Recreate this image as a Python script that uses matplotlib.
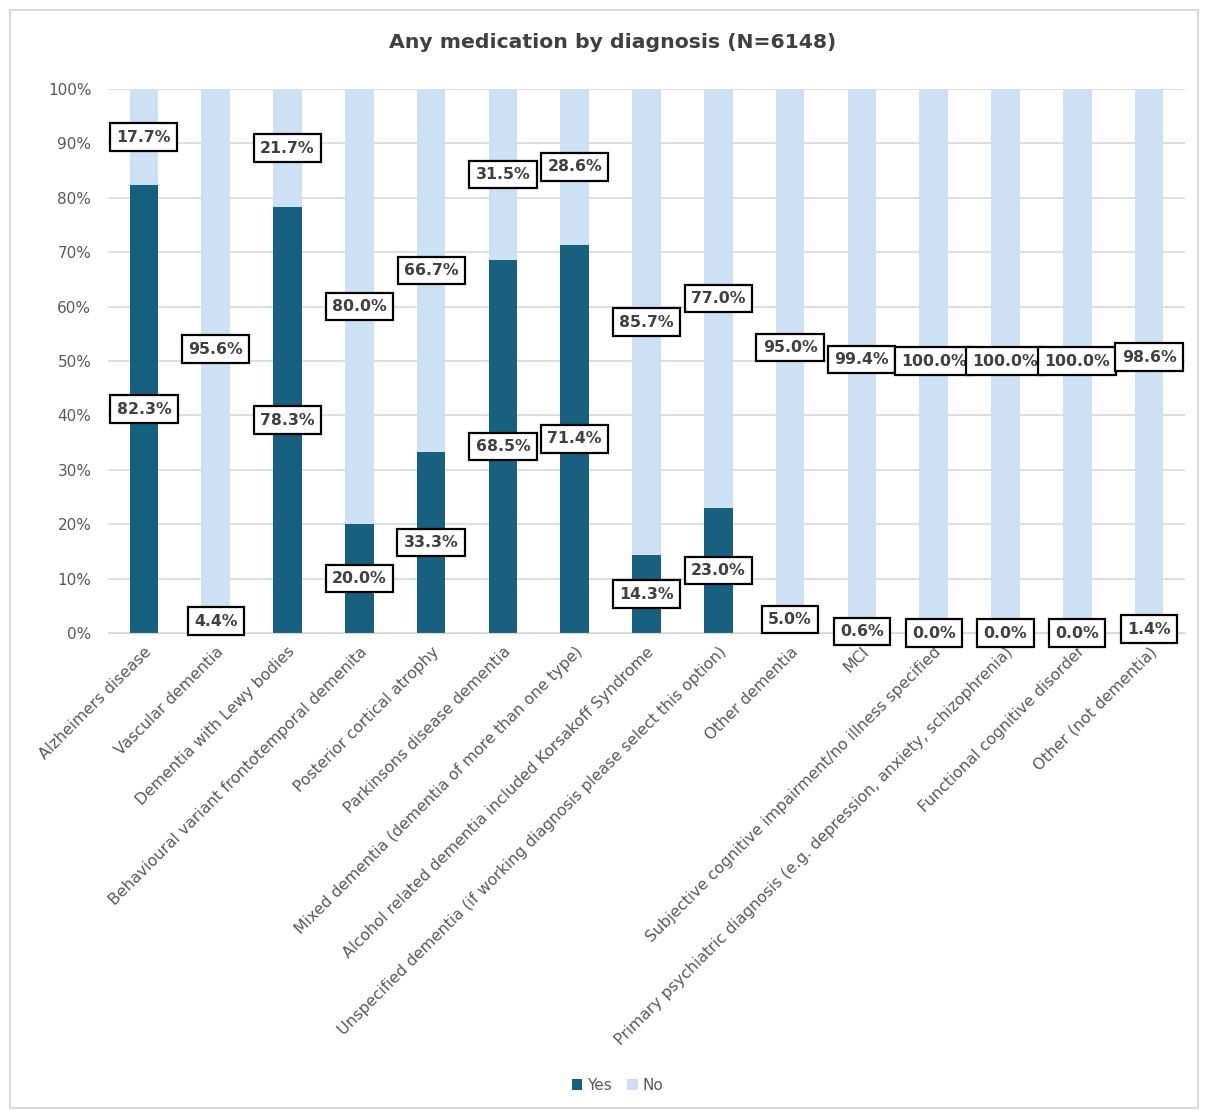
import matplotlib.pyplot as plt
import numpy as np
from matplotlib.patches import Rectangle

plt.rcParams['font.family'] = ['DejaVu Sans']

categories = [
    "Alzheimers disease",
    "Vascular dementia",
    "Dementia with Lewy bodies",
    "Behavioural variant frontotemporal demenita",
    "Posterior cortical atrophy",
    "Parkinsons disease dementia",
    "Mixed dementia (dementia of more than one type)",
    "Alcohol related dementia included Korsakoff Syndrome",
    "Unspecified dementia (if working diagnosis please select this option)",
    "Other dementia",
    "MCI",
    "Subjective cognitive impairment/no illness specified",
    "Primary psychiatric diagnosis (e.g. depression, anxiety, schizophrenia)",
    "Functional cognitive disorder",
    "Other (not dementia)",
]
yes = [82.3, 4.4, 78.3, 20.0, 33.3, 68.5, 71.4, 14.3, 23.0, 5.0, 0.6, 0.0, 0.0, 0.0, 1.4]
no = [17.7, 95.6, 21.7, 80.0, 66.7, 31.5, 28.6, 85.7, 77.0, 95.0, 99.4, 100.0, 100.0, 100.0, 98.6]

dark = "#17607F"
light = "#CCE2F4"
grey = "#595959"

fig = plt.figure(figsize=(12.08, 11.11), dpi=100)
fig.patches.append(Rectangle((10 / 1208, 3 / 1111), 1188 / 1208, 1098 / 1111,
                             transform=fig.transFigure, fill=False,
                             edgecolor="#D9D9D9", linewidth=1.5))
ax = fig.add_axes([108 / 1208, 1 - 633 / 1111, 1077 / 1208, 544 / 1111])

x = np.arange(len(categories))
yes_arr = np.array(yes)
no_arr = np.array(no)
ax.bar(x, yes_arr, width=0.4, color=dark, label="Yes", zorder=2)
ax.bar(x, no_arr, width=0.4, bottom=yes_arr, color=light, label="No", zorder=2)

box = dict(boxstyle="square,pad=0.4", facecolor="white", edgecolor="black", linewidth=1.6)
for i in range(len(categories)):
    ax.text(x[i], yes_arr[i] / 2, f"{yes_arr[i]:.1f}%", ha="center", va="center",
            fontsize=11.3, fontweight="bold", color="#404040", bbox=box, zorder=5)
    ax.text(x[i], yes_arr[i] + no_arr[i] / 2, f"{no_arr[i]:.1f}%", ha="center", va="center",
            fontsize=11.3, fontweight="bold", color="#404040", bbox=box, zorder=5)

ax.set_xlim(-0.5, len(categories) - 0.5)
ax.set_ylim(0, 100)
ax.set_yticks(np.arange(0, 101, 10))
ax.set_yticklabels([f"{v}%" for v in range(0, 101, 10)], fontsize=11, color=grey)
ax.yaxis.grid(True, color="#D9D9D9", linewidth=1.2, zorder=0)
ax.set_axisbelow(True)
for s in ["top", "right", "left"]:
    ax.spines[s].set_visible(False)
ax.spines["bottom"].set_color("#D9D9D9")
ax.tick_params(axis="y", length=0, pad=12)
ax.tick_params(axis="x", length=0, pad=8)
ax.set_xticks(x)
ax.set_xticklabels(categories, rotation=45, ha="right", rotation_mode="anchor",
                   fontsize=11.3, color=grey)

fig.text(0.507, 1 - 43 / 1111, "Any medication by diagnosis (N=6148)", ha="center", va="center",
         fontsize=14.7, fontweight="bold", color="#404040")

fig.legend(loc="center", bbox_to_anchor=(0.511, 1 - 1085 / 1111), ncol=2, frameon=False,
           fontsize=11, handlelength=0.7, handleheight=0.7, handletextpad=0.3,
           columnspacing=1.0, labelcolor=grey)

fig.savefig("out.png", dpi=100)
